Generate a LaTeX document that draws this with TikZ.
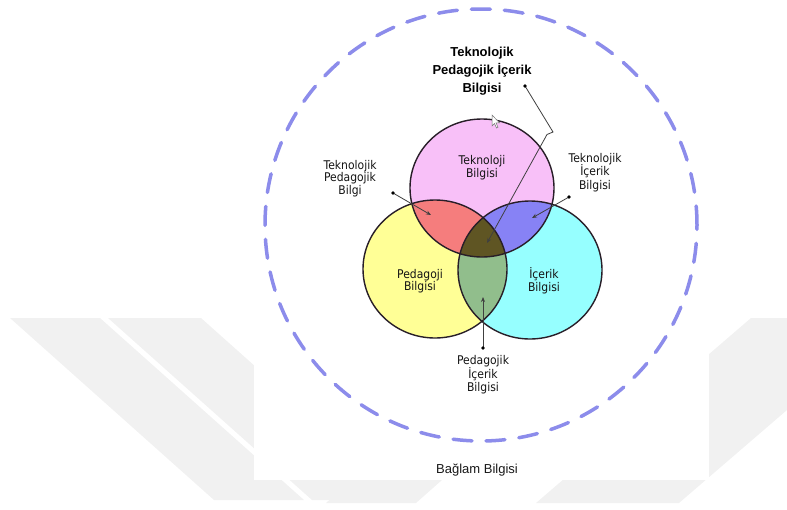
\documentclass[tikz,border=0pt]{standalone}
\usepackage{fontspec}
\setmainfont{Liberation Sans}
\newfontfamily\labfont[FakeStretch=0.9]{DejaVu Sans}
\usetikzlibrary{arrows.meta}
\definecolor{pinkc}{RGB}{248,192,248}
\definecolor{yellowc}{RGB}{255,255,150}
\definecolor{cyanc}{RGB}{150,255,255}
\definecolor{redc}{RGB}{245,125,125}
\definecolor{bluec}{RGB}{135,130,245}
\definecolor{greenc}{RGB}{145,190,140}
\definecolor{darkc}{RGB}{95,85,35}
\definecolor{rimc}{RGB}{40,30,40}
\definecolor{dashc}{RGB}{140,140,235}
\definecolor{wmc}{RGB}{241,241,241}
\tikzset{
  lab/.style={font=\labfont\fontsize{12}{12.5}\selectfont, align=center, inner sep=0pt, text=black!92},
  toplab/.style={font=\bfseries\fontsize{13}{18}\selectfont, align=center, inner sep=0pt, text=black},
  caplab/.style={font=\fontsize{13}{15}\selectfont, inner sep=0pt, text=black!90},
  pointer/.style={draw=black!75, line width=0.8pt, -{Stealth[length=5pt,width=4pt]}},
  dotmark/.style={fill=black, radius=1.8pt},
  rim/.style={draw=rimc, line width=1.4pt},
  wm/.style={fill=wmc}
}
\begin{document}
\begin{tikzpicture}[x=1pt,y=-1pt]
\useasboundingbox (0,0) rectangle (787,509);
% watermark
\fill[wm] (10,318) -- (100,318) -- (304,500) -- (214,500) -- cycle;
\fill[wm] (108,318) -- (201,318) -- (405,500) -- (312,500) -- cycle;
\fill[wm] (751,318) -- (787,318) -- (787,410) -- (679,503) -- (536,503) -- cycle;
\fill[wm] (352,480) -- (442,480) -- (416,503) -- (326,503) -- cycle;
\fill[white] (254,0) rectangle (709,480);
% context circle
\draw[dashc, line width=3.5pt, line cap=round, dash pattern=on 19pt off 14pt] (481,225) circle [radius=216pt];
% base fills
\fill[pinkc] (482,188) ellipse [x radius=72pt, y radius=69pt];
\fill[yellowc] (435,269) ellipse [x radius=72pt, y radius=69pt];
\fill[cyanc] (530,270) ellipse [x radius=72pt, y radius=69pt];
% pairwise
\begin{scope}
  \clip (482,188) ellipse [x radius=72pt, y radius=69pt];
  \fill[redc] (435,269) ellipse [x radius=72pt, y radius=69pt];
  \fill[bluec] (530,270) ellipse [x radius=72pt, y radius=69pt];
\end{scope}
\begin{scope}
  \clip (435,269) ellipse [x radius=72pt, y radius=69pt];
  \fill[greenc] (530,270) ellipse [x radius=72pt, y radius=69pt];
  \clip (530,270) ellipse [x radius=72pt, y radius=69pt];
  \fill[darkc] (482,188) ellipse [x radius=72pt, y radius=69pt];
\end{scope}
% outlines
\draw[rim] (482,188) ellipse [x radius=72pt, y radius=69pt];
\draw[rim] (435,269) ellipse [x radius=72pt, y radius=69pt];
\draw[rim] (530,270) ellipse [x radius=72pt, y radius=69pt];
% cursor
\draw[black!55, fill=white, line width=0.5pt] (492,115) -- (492,126) -- (494.5,123.5) -- (496.5,128) -- (498,127.3) -- (496,122.8) -- (499.5,122.8) -- cycle;
% inner labels
\node[lab] (tk) at (482,167.5) {Teknoloji\\Bilgisi};
\node[lab] (pb) at (420,281) {Pedagoji\\Bilgisi};
\node[lab] (ib) at (544,281) {İçerik\\Bilgisi};
% outer labels
\node[toplab] (tpik) at (482,71.5) {Teknolojik\\Pedagojik İçerik\\Bilgisi};
\node[lab] (tpb) at (350,178.5) {Teknolojik\\Pedagojik\\Bilgi};
\node[lab, font=\labfont\fontsize{12}{13.5}\selectfont] (tib) at (595,172.5) {Teknolojik\\İçerik\\Bilgisi};
\node[lab] (pib) at (483,374.5) {Pedagojik\\İçerik\\Bilgisi};
\node[caplab] (bb) at (477,470.5) {Bağlam Bilgisi};
% connector points
\coordinate (dT) at (525,86);
\coordinate (kT1) at (553,132);
\coordinate (kT2) at (547,134.5);
\coordinate (tC) at (487,243);
\coordinate (dL) at (393,193);
\coordinate (tL) at (431,215);
\coordinate (dR) at (569,197);
\coordinate (tR) at (532,218);
\coordinate (dB) at (483,348);
\coordinate (tB) at (483,297);
% connectors
\draw[pointer] (dT) -- (kT1) -- (kT2) -- (tC);
\draw[pointer] (dL) -- (tL);
\draw[pointer] (dR) -- (tR);
\draw[pointer] (dB) -- (tB);
\fill[dotmark] (dT) circle;
\fill[dotmark] (dL) circle;
\fill[dotmark] (dR) circle;
\fill[dotmark] (dB) circle;
\end{tikzpicture}
\end{document}
